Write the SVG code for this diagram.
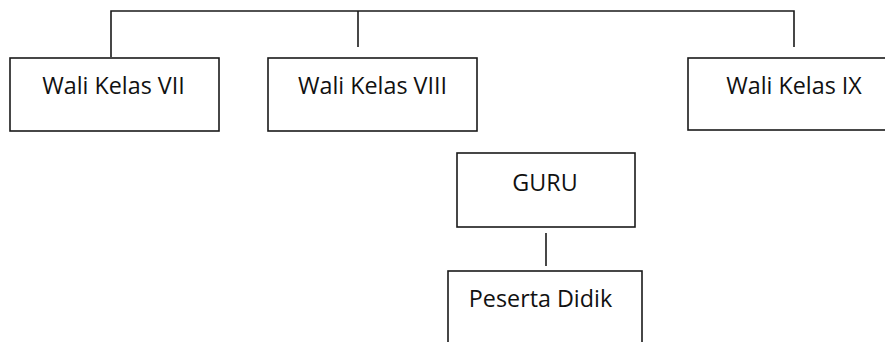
<svg xmlns="http://www.w3.org/2000/svg" width="885" height="342" viewBox="0 0 885 342">
  <style>
    .box { fill: #ffffff; stroke: #1a1a1a; stroke-width: 1.6; }
    .line { fill: none; stroke: #1a1a1a; stroke-width: 1.6; }
    .label { font-family: "Open Sans", "Noto Sans", sans-serif; font-size: 23.3px; fill: #111111; text-anchor: middle; }
  </style>
  <rect width="885" height="342" fill="#ffffff"/>

  <g id="connectors">
    <path class="line" d="M111 57 V11 H794 V47"/>
    <path class="line" d="M358 11 V47"/>
    <path class="line" d="M546 233 V266"/>
  </g>

  <g id="wali-vii">
    <rect class="box" x="10" y="58" width="209" height="73"/>
    <text class="label" x="113.5" y="94">Wali Kelas VII</text>
  </g>

  <g id="wali-viii">
    <rect class="box" x="268" y="58" width="209" height="73"/>
    <text class="label" x="372.5" y="94">Wali Kelas VIII</text>
  </g>

  <g id="wali-ix">
    <rect class="box" x="688" y="58" width="220" height="72"/>
    <text class="label" x="794" y="94">Wali Kelas IX</text>
  </g>

  <g id="guru">
    <rect class="box" x="457" y="153" width="178" height="74"/>
    <text class="label" x="545" y="191">GURU</text>
  </g>

  <g id="peserta-didik">
    <rect class="box" x="448" y="271" width="194" height="90"/>
    <text class="label" x="540.5" y="307">Peserta Didik</text>
  </g>
</svg>
